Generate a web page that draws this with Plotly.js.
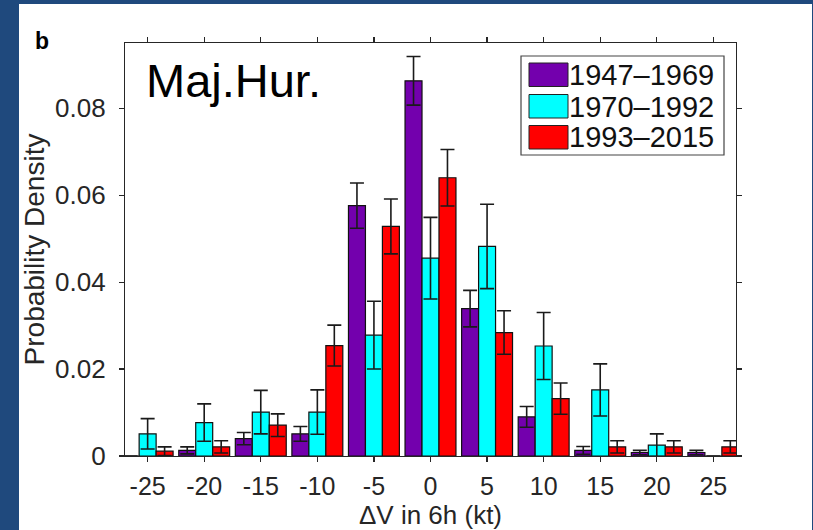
<!DOCTYPE html>
<html>
<head>
<meta charset="utf-8">
<script src="https://cdn.plot.ly/plotly-3.0.1.min.js"></script>
<style>
  html, body { margin: 0; padding: 0; background: #1F497D; width: 813px; height: 530px; overflow: hidden; }
  #plot { position: absolute; left: 19px; top: 4px; width: 793px; height: 526px; background: #ffffff; }
</style>
</head>
<body>
<div id="plot"></div>
<script>
// ---- data ----
const dv = [-25, -20, -15, -10, -5, 0, 5, 10, 15, 20, 25];
const seriesNames = ['1947\u20131969', '1970\u20131992', '1993\u20132015'];
const seriesColors = ['#7300AD', '#00FFFF', '#FF0000'];
const p1947 = [0, 0.0013, 0.0040, 0.0051, 0.0576, 0.0863, 0.0339, 0.0090, 0.0013, 0.0008, 0.0008];
const e1947 = [0, 0.0008, 0.0014, 0.0017, 0.0052, 0.0056, 0.0042, 0.0024, 0.0009, 0.0005, 0.0005];
const p1970 = [0.0051, 0.0077, 0.0101, 0.0101, 0.0278, 0.0455, 0.0482, 0.0253, 0.0152, 0.0025, 0];
const e1970 = [0.0035, 0.0043, 0.0050, 0.0051, 0.0078, 0.0094, 0.0097, 0.0077, 0.0060, 0.0026, 0];
const p1993 = [0.0011, 0.0021, 0.0071, 0.0254, 0.0528, 0.0640, 0.0284, 0.0132, 0.0021, 0.0021, 0.0021];
const e1993 = [0.0010, 0.0014, 0.0026, 0.0047, 0.0063, 0.0065, 0.0050, 0.0036, 0.0014, 0.0014, 0.0014];
const xTickVals = [-25, -20, -15, -10, -5, 0, 5, 10, 15, 20, 25];
const xTickText = ['-25', '-20', '-15', '-10', '-5', '0', '5', '10', '15', '20', '25'];
const yTickVals = [0, 0.02, 0.04, 0.06, 0.08];
const yTickText = ['0', '0.02', '0.04', '0.06', '0.08'];
const panelLabel = 'b';
const panelTitle = 'Maj.Hur.';
const xTitle = '\u0394V in 6h (kt)';
const yTitle = 'Probability Density';

const values = [p1947, p1970, p1993];
const errors = [e1947, e1970, e1993];

const FONT = 'Liberation Sans, Arial, Helvetica, sans-serif';
const AX = '#262626';

const traces = values.map((v, i) => ({
  type: 'bar',
  name: seriesNames[i],
  x: dv,
  y: v,
  marker: { color: seriesColors[i], line: { color: '#111111', width: 1.2 } },
  error_y: { type: 'data', array: errors[i], visible: true, color: '#1a1a1a', thickness: 1.6, width: 7 },
  showlegend: false,
  hoverinfo: 'x+y'
}));

// plot-area geometry (pixels in the page) to place the hand-drawn legend
const L = 125, R = 736, T = 43, B = 456;
const px = x => (x - L) / (R - L);
const py = y => (B - y) / (B - T);

const shapes = [{
  type: 'rect', xref: 'paper', yref: 'paper',
  x0: px(521), x1: px(724), y0: py(155), y1: py(56),
  line: { color: '#444444', width: 1.2 }, fillcolor: '#ffffff'
}];
const annotations = [];
const rowTop = [63, 94.5, 125.5];
seriesNames.forEach((nm, i) => {
  shapes.push({
    type: 'rect', xref: 'paper', yref: 'paper',
    x0: px(529), x1: px(568), y0: py(rowTop[i] + 23.5), y1: py(rowTop[i]),
    line: { color: '#222222', width: 1 }, fillcolor: seriesColors[i]
  });
  annotations.push({
    xref: 'paper', yref: 'paper', x: px(567), y: py(rowTop[i] + 12),
    xanchor: 'left', yanchor: 'middle', showarrow: false,
    text: nm, font: { family: FONT, size: 29, color: '#111111' }
  });
});
annotations.push({
  xref: 'paper', yref: 'paper', x: px(144), y: py(80),
  xanchor: 'left', yanchor: 'middle', showarrow: false,
  text: panelTitle, font: { family: FONT, size: 47, color: '#000000' }
});
annotations.push({
  xref: 'paper', yref: 'paper', x: px(33), y: py(41),
  xanchor: 'left', yanchor: 'middle', showarrow: false,
  text: '<b>' + panelLabel + '</b>', font: { family: FONT, size: 23, color: '#000000' }
});

const layout = {
  width: 793, height: 526,
  margin: { l: 106, r: 76, t: 39, b: 74, pad: 0 },
  paper_bgcolor: '#ffffff', plot_bgcolor: '#ffffff',
  barmode: 'group', bargap: 0.1, bargroupgap: 0,
  font: { family: FONT, color: AX },
  xaxis: {
    range: [-27, 27], tickvals: xTickVals, ticktext: xTickText,
    showline: true, linecolor: AX, linewidth: 1.2, mirror: 'ticks',
    ticks: 'outside', ticklen: 5, tickwidth: 1.2, tickcolor: AX,
    showgrid: false, zeroline: false,
    tickfont: { family: FONT, size: 25, color: AX },
    ticklabelstandoff: 3,
    title: { text: xTitle, font: { family: FONT, size: 26, color: AX }, standoff: 4 }
  },
  yaxis: {
    range: [0, 0.095], tickvals: yTickVals, ticktext: yTickText,
    showline: true, linecolor: AX, linewidth: 1.2, mirror: 'ticks',
    ticks: 'outside', ticklen: 5, tickwidth: 1.2, tickcolor: AX,
    showgrid: false, zeroline: false,
    tickfont: { family: FONT, size: 26, color: AX },
    ticklabelstandoff: 8,
    title: { text: yTitle, font: { family: FONT, size: 28, color: AX }, standoff: 2 }
  },
  shapes: shapes,
  annotations: annotations,
  showlegend: false
};

Plotly.newPlot('plot', traces, layout, { displayModeBar: false, staticPlot: true });
</script>
</body>
</html>
